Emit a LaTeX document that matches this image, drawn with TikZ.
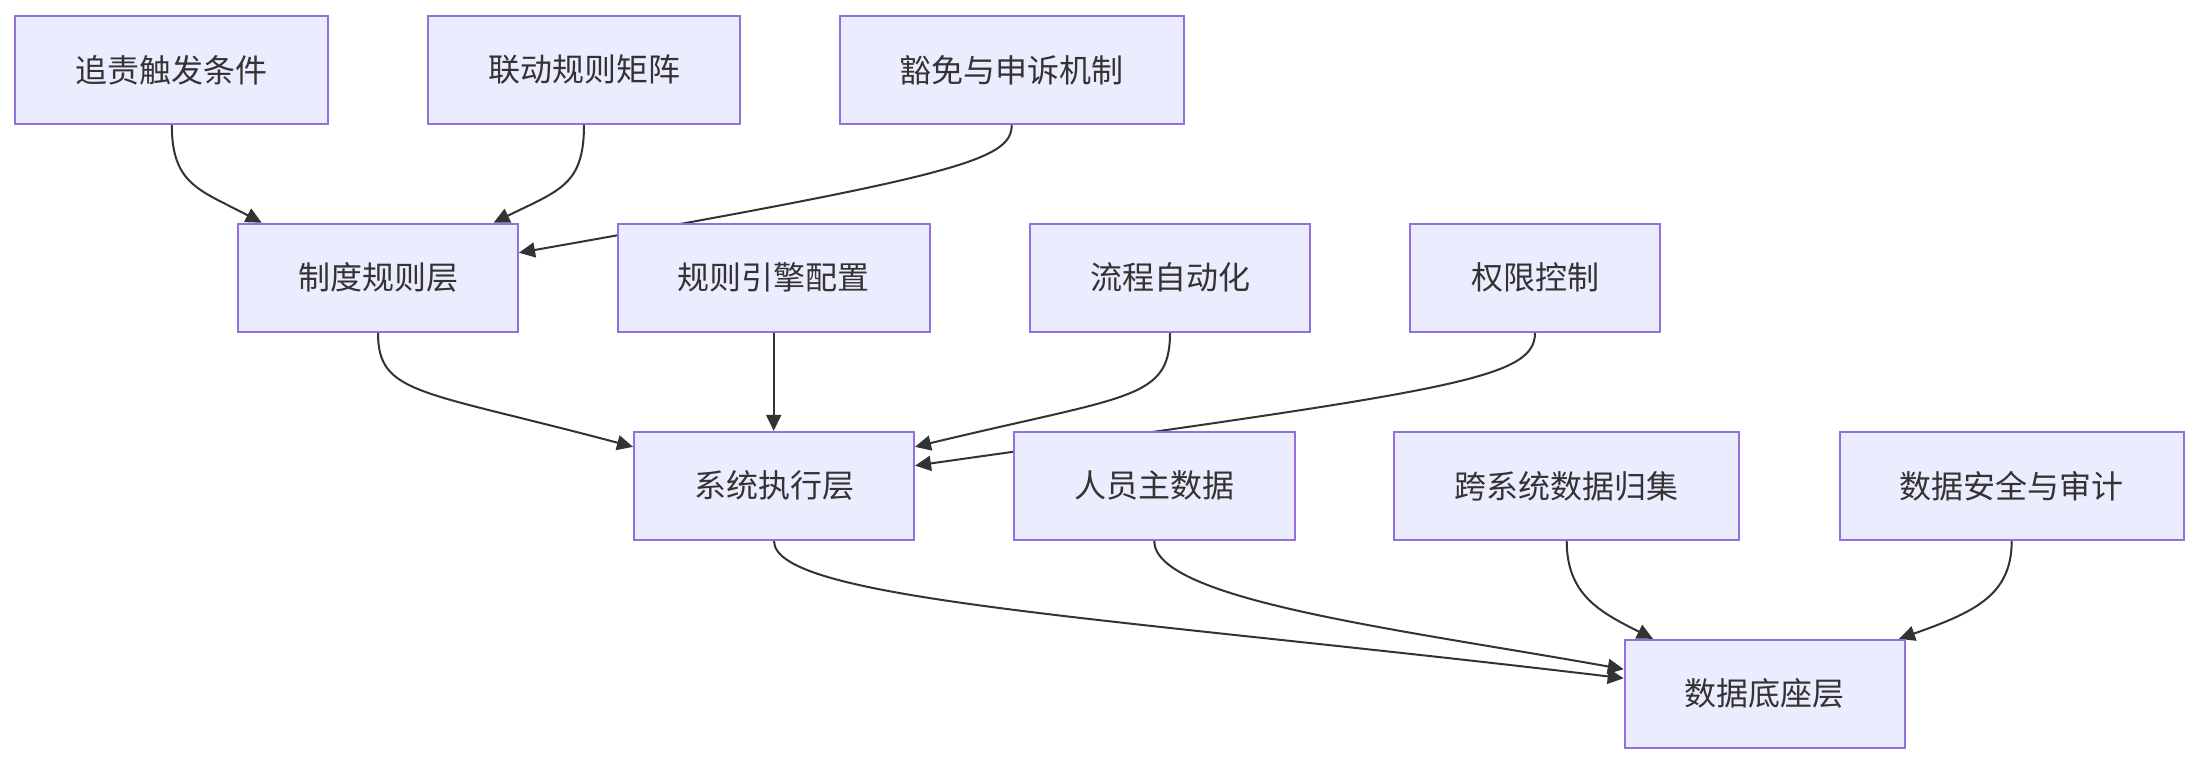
\documentclass[tikz,border=0pt]{standalone}
\usepackage{fontspec}
\newfontfamily\cjk{Noto Sans CJK SC}
\usetikzlibrary{arrows.meta}
\pgfdeclarelayer{bg}
\pgfsetlayers{bg,main}
\definecolor{nodefill}{HTML}{ECECFF}
\definecolor{nodeborder}{HTML}{9370DB}
\definecolor{edgecol}{HTML}{333333}
\definecolor{textcol}{HTML}{333333}
\begin{document}
\begin{tikzpicture}[x=1pt,y=1pt,
  box/.style={draw=nodeborder, fill=nodefill, line width=2pt, minimum height=108pt,
    inner sep=0pt, font=\cjk\fontsize{32}{38}\selectfont, text=textcol},
  link/.style={draw=edgecol, line width=2pt, -{Triangle[length=16pt,width=15pt]}}]
\useasboundingbox (0,0) rectangle (2198,764);
% row 1
\node[box, minimum width=313pt] (A) at (171.8,694.15) {追责触发条件};
\node[box, minimum width=312pt] (B) at (584,694.15) {联动规则矩阵};
\node[box, minimum width=344pt] (C) at (1011.7,694.15) {豁免与申诉机制};
% row 2
\node[box, minimum width=280pt] (D) at (378,486.25) {制度规则层};
\node[box, minimum width=312pt] (E) at (773.7,486.25) {规则引擎配置};
\node[box, minimum width=280pt] (F) at (1170,486.25) {流程自动化};
\node[box, minimum width=250pt] (G) at (1535,486.25) {权限控制};
% row 3
\node[box, minimum width=280pt] (H) at (774,278.15) {系统执行层};
\node[box, minimum width=281pt] (I) at (1154.2,278.15) {人员主数据};
\node[box, minimum width=345pt] (J) at (1566.7,278.15) {跨系统数据归集};
\node[box, minimum width=344pt] (K) at (2011.7,278.15) {数据安全与审计};
% row 4
\node[box, minimum width=280pt] (L) at (1764.7,70.15) {数据底座层};
\begin{pgfonlayer}{bg}
\fill[white] (0,0) rectangle (2198,764);
\draw[link] (A.south) .. controls (171.8,579) and (200,574) .. ([xshift=-116.3pt]D.north);
\draw[link] (B.south) .. controls (584,579) and (560,574) .. ([xshift=115.6pt]D.north);
\draw[link] (C.south) .. controls (1011.7,604) and (960,589) .. ([yshift=25pt]D.east);
\draw[link] (D.south) .. controls (378,369) and (420,374) .. ([yshift=39pt]H.west);
\draw[link] (E.south) -- (E.south |- H.north);
\draw[link] (F.south) .. controls (1170,364) and (1130,369) .. ([yshift=39pt]H.east);
\draw[link] (G.south) .. controls (1535,384) and (1450,374) .. ([yshift=20.2pt]H.east);
\draw[link] (H.south) .. controls (774,164) and (1100,148) .. ([yshift=15.6pt]L.west);
\draw[link] (I.south) .. controls (1154.2,164) and (1400,134.7) .. ([yshift=24.6pt]L.west);
\draw[link] (J.south) .. controls (1566.7,169) and (1600,152) .. ([xshift=-111.7pt]L.north);
\draw[link] (K.south) .. controls (2011.7,169) and (1975,152) .. ([xshift=134.3pt]L.north);
\end{pgfonlayer}
\end{tikzpicture}
\end{document}
